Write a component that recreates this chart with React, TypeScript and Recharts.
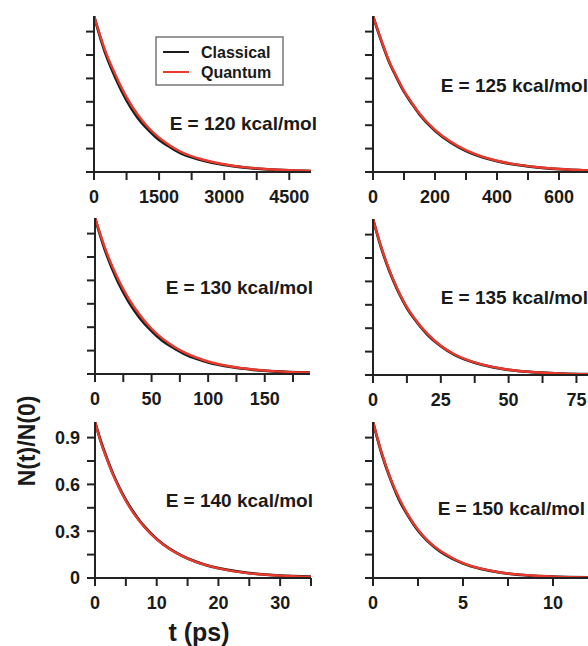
import React from "react";
import { LineChart, Line, XAxis, YAxis } from "recharts";

const FONT = '"Liberation Sans", Arial, sans-serif';
const BLACK = "#1c1c1c";
const RED = "#ea3a2e";

// shared y axis ticks (minor every 0.15, labels only on the bottom-left panel)
const yTicks = [0, 0.15, 0.3, 0.45, 0.6, 0.75, 0.9];
const yLabelTicks = [0, 0.3, 0.6, 0.9];

// E = 120 kcal/mol
const t120 = [0, 250, 500, 750, 1000, 1250, 1500, 1750, 2000, 2500, 3000, 3500, 4000, 4500, 5000];
const classical120 = [1.0, 0.77, 0.6, 0.46, 0.35, 0.27, 0.205, 0.16, 0.12, 0.075, 0.045, 0.028, 0.017, 0.01, 0.006];
const quantum120 = [1.0, 0.785, 0.62, 0.48, 0.37, 0.285, 0.22, 0.17, 0.13, 0.08, 0.05, 0.03, 0.018, 0.011, 0.007];

// E = 125 kcal/mol
const t125 = [0, 25, 50, 75, 100, 125, 150, 200, 250, 300, 350, 400, 450, 500, 600, 700];
const classical125 = [1.0, 0.85, 0.715, 0.61, 0.515, 0.44, 0.37, 0.265, 0.19, 0.135, 0.097, 0.07, 0.05, 0.036, 0.018, 0.009];
const quantum125 = [1.0, 0.855, 0.72, 0.615, 0.52, 0.445, 0.375, 0.27, 0.195, 0.14, 0.1, 0.072, 0.052, 0.038, 0.019, 0.01];

// E = 130 kcal/mol
const t130 = [0, 10, 20, 30, 40, 50, 60, 70, 80, 100, 120, 140, 160, 190];
const classical130 = [1.0, 0.77, 0.595, 0.46, 0.355, 0.275, 0.21, 0.165, 0.125, 0.075, 0.045, 0.027, 0.016, 0.008];
const quantum130 = [1.0, 0.785, 0.615, 0.48, 0.375, 0.29, 0.225, 0.175, 0.135, 0.08, 0.048, 0.029, 0.017, 0.009];

// E = 135 kcal/mol
const t135 = [0, 2.5, 5, 7.5, 10, 12.5, 15, 20, 25, 30, 35, 40, 50, 60, 70, 80];
const classical135 = [1.0, 0.845, 0.715, 0.605, 0.51, 0.43, 0.365, 0.26, 0.185, 0.13, 0.093, 0.066, 0.033, 0.017, 0.009, 0.005];
const quantum135 = [1.0, 0.85, 0.72, 0.61, 0.515, 0.435, 0.37, 0.265, 0.188, 0.133, 0.095, 0.068, 0.034, 0.018, 0.009, 0.005];

// E = 140 kcal/mol
const t140 = [0, 1, 2, 3, 4, 5, 6, 7, 8, 10, 12, 14, 16, 18, 20, 25, 30, 35];
const classical140 = [1.0, 0.87, 0.76, 0.66, 0.575, 0.5, 0.435, 0.38, 0.33, 0.25, 0.19, 0.145, 0.11, 0.083, 0.063, 0.031, 0.015, 0.008];
const quantum140 = [1.0, 0.865, 0.755, 0.655, 0.57, 0.495, 0.43, 0.375, 0.327, 0.248, 0.188, 0.143, 0.108, 0.082, 0.062, 0.03, 0.015, 0.007];

// E = 150 kcal/mol
const t150 = [0, 0.5, 1, 1.5, 2, 2.5, 3, 3.5, 4, 5, 6, 7, 8, 9, 10, 12.5];
const classical150 = [1.0, 0.79, 0.625, 0.49, 0.39, 0.305, 0.24, 0.19, 0.15, 0.093, 0.058, 0.036, 0.022, 0.014, 0.009, 0.003];
const quantum150 = [1.0, 0.795, 0.63, 0.5, 0.395, 0.31, 0.245, 0.195, 0.155, 0.096, 0.06, 0.037, 0.023, 0.014, 0.009, 0.003];

type Box = { x0: number; x1: number; y0: number; y1: number };

type PanelProps = {
  box: Box;
  t: number[];
  classical: number[];
  quantum: number[];
  xMax: number;
  xTicks: number[];
  xMajor: number[];
  showYLabels?: boolean;
};

const GUTTER_L = 80;
const GUTTER_T = 10;
const GUTTER_R = 4;
const GUTTER_B = 45;

const Panel = ({ box, t, classical, quantum, xMax, xTicks, xMajor, showYLabels }: PanelProps) => {
  const data = t.map((v, i) => ({ t: v, classical: classical[i], quantum: quantum[i] }));
  const w = box.x1 - box.x0 + GUTTER_L + GUTTER_R;
  const h = box.y1 - box.y0 + GUTTER_T + GUTTER_B;
  const axisStyle = { stroke: "#222", strokeWidth: 2 };

  const xTick = (props: any) => {
    const { x, y, payload } = props;
    if (!xMajor.includes(payload.value)) return <g />;
    return (
      <text x={x} y={y + 21} textAnchor="middle" fontFamily={FONT} fontWeight="bold" fontSize={18} fill="#1a1a1a">
        {payload.value}
      </text>
    );
  };

  const yTick = (props: any) => {
    const { x, y, payload } = props;
    if (!showYLabels || !yLabelTicks.includes(payload.value)) return <g />;
    return (
      <text x={x - 5} y={y} dy="0.36em" textAnchor="end" fontFamily={FONT} fontWeight="bold" fontSize={18} fill="#1a1a1a">
        {payload.value}
      </text>
    );
  };

  return (
    <div style={{ position: "absolute", left: box.x0 - GUTTER_L, top: box.y0 - GUTTER_T }}>
      <LineChart width={w} height={h} data={data} margin={{ top: GUTTER_T, right: GUTTER_R, bottom: 0, left: 0 }}>
        <XAxis
          dataKey="t"
          type="number"
          domain={[0, xMax]}
          ticks={xTicks}
          interval={0}
          height={GUTTER_B}
          tickSize={8}
          axisLine={axisStyle}
          tickLine={axisStyle}
          tick={xTick}
          allowDataOverflow
        />
        <YAxis
          type="number"
          domain={[0, 1]}
          ticks={yTicks}
          interval={0}
          width={GUTTER_L}
          tickSize={8}
          axisLine={axisStyle}
          tickLine={axisStyle}
          tick={yTick}
          allowDataOverflow
        />
        <Line type="monotone" dataKey="classical" stroke={BLACK} strokeWidth={2.8} dot={false} isAnimationActive={false} />
        <Line type="monotone" dataKey="quantum" stroke={RED} strokeWidth={2.4} dot={false} isAnimationActive={false} />
      </LineChart>
    </div>
  );
};

const labelStyle = { fontFamily: FONT, fontWeight: "bold" as const, fill: "#1a1a1a" };

export default function App() {
  return (
    <div style={{ position: "fixed", left: 0, top: 0, width: 588, height: 646, overflow: "hidden", background: "#fff" }}>
      <Panel box={{ x0: 94, x1: 311, y0: 16, y1: 172 }} t={t120} classical={classical120} quantum={quantum120}
        xMax={5000} xTicks={[0, 750, 1500, 2250, 3000, 3750, 4500]} xMajor={[0, 1500, 3000, 4500]} />
      <Panel box={{ x0: 373, x1: 590, y0: 16, y1: 172 }} t={t125} classical={classical125} quantum={quantum125}
        xMax={700} xTicks={[0, 100, 200, 300, 400, 500, 600, 700]} xMajor={[0, 200, 400, 600]} />
      <Panel box={{ x0: 95, x1: 310, y0: 218, y1: 374 }} t={t130} classical={classical130} quantum={quantum130}
        xMax={190} xTicks={[0, 25, 50, 75, 100, 125, 150, 175]} xMajor={[0, 50, 100, 150]} />
      <Panel box={{ x0: 373, x1: 590, y0: 219, y1: 375 }} t={t135} classical={classical135} quantum={quantum135}
        xMax={80} xTicks={[0, 12.5, 25, 37.5, 50, 62.5, 75]} xMajor={[0, 25, 50, 75]} />
      <Panel box={{ x0: 95, x1: 311, y0: 422, y1: 578 }} t={t140} classical={classical140} quantum={quantum140}
        xMax={35} xTicks={[0, 5, 10, 15, 20, 25, 30, 35]} xMajor={[0, 10, 20, 30]} showYLabels />
      <Panel box={{ x0: 373, x1: 598, y0: 422, y1: 578 }} t={t150} classical={classical150} quantum={quantum150}
        xMax={12.5} xTicks={[0, 2.5, 5, 7.5, 10, 12.5]} xMajor={[0, 5, 10]} />

      <svg width={588} height={646} style={{ position: "absolute", left: 0, top: 0, pointerEvents: "none" }}>
        {/* legend */}
        <rect x={156} y={37} width={127} height={48} fill="#fff" stroke="#777" strokeWidth={1.5} />
        <line x1={163} x2={189} y1={52} y2={52} stroke={BLACK} strokeWidth={2} />
        <line x1={163} x2={189} y1={72} y2={72} stroke={RED} strokeWidth={2} />
        <text x={201} y={58} fontSize={16} {...labelStyle}>Classical</text>
        <text x={201} y={78} fontSize={16} {...labelStyle}>Quantum</text>

        {/* energy labels */}
        <text x={317} y={130} textAnchor="end" fontSize={19} {...labelStyle}>E = 120 kcal/mol</text>
        <text x={588} y={92} textAnchor="end" fontSize={19} {...labelStyle}>E = 125 kcal/mol</text>
        <text x={313} y={294} textAnchor="end" fontSize={19} {...labelStyle}>E = 130 kcal/mol</text>
        <text x={588} y={304} textAnchor="end" fontSize={19} {...labelStyle}>E = 135 kcal/mol</text>
        <text x={313} y={507} textAnchor="end" fontSize={19} {...labelStyle}>E = 140 kcal/mol</text>
        <text x={585} y={515} textAnchor="end" fontSize={19} {...labelStyle}>E = 150 kcal/mol</text>

        {/* axis titles */}
        <text x={0} y={0} transform="translate(35, 441) rotate(-90)" textAnchor="middle" fontSize={23} {...labelStyle}>N(t)/N(0)</text>
        <text x={199} y={641} textAnchor="middle" fontSize={25} {...labelStyle}>t (ps)</text>
      </svg>
    </div>
  );
}
